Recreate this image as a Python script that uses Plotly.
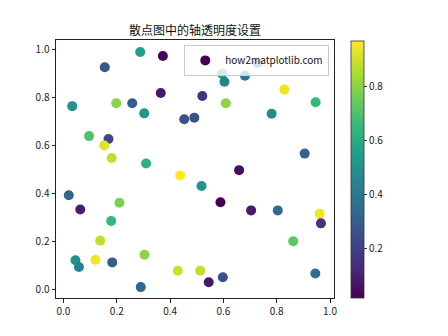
import plotly.graph_objects as go

x_vals = [0.589, 0.288, 0.373, 0.155, 0.365, 0.033, 0.198, 0.258, 0.303, 0.453,
          0.491, 0.521, 0.096, 0.169, 0.153, 0.181, 0.310, 0.729, 0.595, 0.604,
          0.681, 0.829, 0.609, 0.946, 0.781, 0.905, 0.659, 0.438, 0.518, 0.020,
          0.063, 0.210, 0.179, 0.138, 0.045, 0.058, 0.120, 0.183, 0.304, 0.290,
          0.429, 0.513, 0.704, 0.804, 0.961, 0.966, 0.862, 0.545, 0.598, 0.945]
y_vals = [0.362, 0.989, 0.972, 0.925, 0.818, 0.763, 0.775, 0.775, 0.733, 0.708,
          0.715, 0.805, 0.638, 0.626, 0.599, 0.547, 0.524, 0.944, 0.898, 0.865,
          0.890, 0.832, 0.775, 0.779, 0.731, 0.565, 0.496, 0.474, 0.430, 0.391,
          0.332, 0.360, 0.284, 0.202, 0.120, 0.092, 0.122, 0.111, 0.143, 0.008,
          0.076, 0.076, 0.328, 0.328, 0.314, 0.274, 0.199, 0.028, 0.049, 0.065]
c_vals = [0.015, 0.55, 0.03, 0.27, 0.08, 0.50, 0.80, 0.30, 0.52, 0.25,
          0.25, 0.15, 0.70, 0.22, 0.93, 0.88, 0.62, 0.35, 0.55, 0.45,
          0.38, 0.95, 0.80, 0.65, 0.47, 0.32, 0.05, 0.97, 0.50, 0.32,
          0.10, 0.78, 0.65, 0.88, 0.50, 0.45, 0.95, 0.30, 0.80, 0.33,
          0.90, 0.88, 0.08, 0.35, 0.95, 0.15, 0.72, 0.08, 0.25, 0.35]

x_ticks = [0.0, 0.2, 0.4, 0.6, 0.8, 1.0]
y_ticks = [0.0, 0.2, 0.4, 0.6, 0.8, 1.0]
cb_ticks = [0.2, 0.4, 0.6, 0.8]

FONT = "Noto Sans CJK SC"

fig = go.Figure()
fig.add_trace(go.Scatter(
    x=x_vals, y=y_vals, mode="markers", name="how2matplotlib.com",
    showlegend=True,
    marker=dict(
        size=10, color=c_vals, colorscale="Viridis",
        cmin=min(c_vals), cmax=max(c_vals), line=dict(width=0),
        colorbar=dict(
            x=(351 - 56) / 278, xanchor="left", xpad=0,
            y=1 - (41 - 40) / 258, yanchor="top", ypad=0,
            thickness=13, thicknessmode="pixels",
            len=257, lenmode="pixels",
            outlinewidth=0.8, outlinecolor="#333",
            tickvals=cb_ticks, ticktext=[f"{v:.1f}" for v in cb_ticks],
            ticks="outside", ticklen=3, tickwidth=0.8, tickcolor="#333",
            tickfont=dict(family=FONT, size=10, color="#222"),
        ),
    ),
))

axis_common = dict(
    showline=True, linecolor="#222", linewidth=1, mirror=True,
    ticks="outside", ticklen=3.5, tickwidth=0.8, tickcolor="#222",
    showgrid=False, zeroline=False,
    tickfont=dict(family=FONT, size=10, color="#222"),
)
fig.update_xaxes(range=[-0.028, 1.015], tickvals=x_ticks,
                 ticktext=[f"{v:.1f}" for v in x_ticks], **axis_common)
fig.update_yaxes(range=[-0.0375, 1.039], tickvals=y_ticks,
                 ticktext=[f"{v:.1f}" for v in y_ticks], **axis_common)

fig.update_layout(
    width=448, height=336,
    margin=dict(l=56, r=114, t=40, b=38),
    paper_bgcolor="white", plot_bgcolor="white",
    title=dict(text="散点图中的轴透明度设置", x=(56 + 139) / 448, xanchor="center",
               y=1 - 31 / 336, yanchor="middle",
               font=dict(family=FONT, size=12, color="#111")),
    legend=dict(x=0.983, xanchor="right", y=0.981, yanchor="top",
                bgcolor="rgba(255,255,255,0.8)", bordercolor="#ccc", borderwidth=1,
                font=dict(family=FONT, size=10, color="#111"),
                itemwidth=30),
    showlegend=True,
)

fig.write_html("out.html")
